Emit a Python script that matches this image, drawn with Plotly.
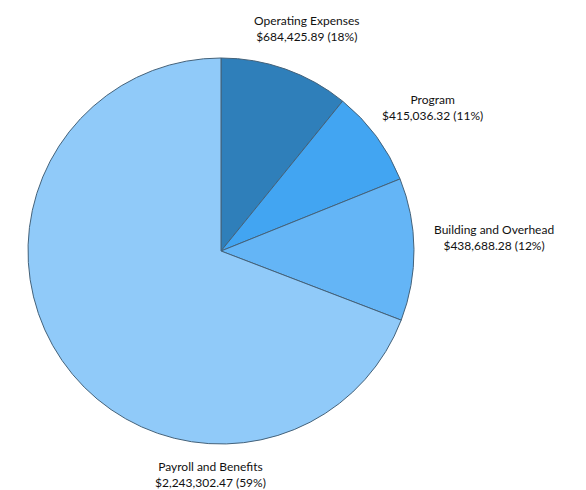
import plotly.graph_objects as go

categories = ["Operating Expenses", "Program", "Building and Overhead", "Payroll and Benefits"]
amounts = ["$684,425.89", "$415,036.32", "$438,688.28", "$2,243,302.47"]
percent_labels = ["18%", "11%", "12%", "59%"]
# slice shares as drawn in the picture (percent of the circle)
drawn_shares = [10.85, 8.06, 11.92, 69.17]
colors = ["#2f7fba", "#42a5f2", "#64b5f6", "#90caf9"]

# label anchor positions (pixel-based, in a 586x490 canvas)
label_pos = [(307, 28), (432, 108), (494, 237), (210, 474)]

W, H = 586, 490
cx, cy, r = 221, 251, 193

fig = go.Figure(go.Pie(
    labels=categories,
    values=drawn_shares,
    sort=False,
    direction="clockwise",
    rotation=0,
    textinfo="none",
    hoverinfo="label",
    marker=dict(colors=colors, line=dict(color="#44627a", width=1)),
    domain=dict(x=[(cx - r) / W, (cx + r) / W], y=[(H - cy - r) / H, (H - cy + r) / H]),
    showlegend=False,
))

annotations = []
for cat, amt, pct, (lx, ly) in zip(categories, amounts, percent_labels, label_pos):
    annotations.append(dict(
        x=lx / W, y=1 - ly / H, xref="paper", yref="paper",
        text=f"{cat}<br>{amt} ({pct})", showarrow=False,
        xanchor="center", yanchor="middle", align="center",
        font=dict(size=12, color="#111111", family="Lato, sans-serif"),
    ))

fig.update_layout(
    width=W, height=H,
    margin=dict(l=0, r=0, t=0, b=0),
    paper_bgcolor="white", plot_bgcolor="white",
    annotations=annotations,
)
fig.write_html(
    "out.html",
    config={"displayModeBar": False},
    post_script="document.body.style.margin='0';document.body.style.overflow='hidden';",
)
